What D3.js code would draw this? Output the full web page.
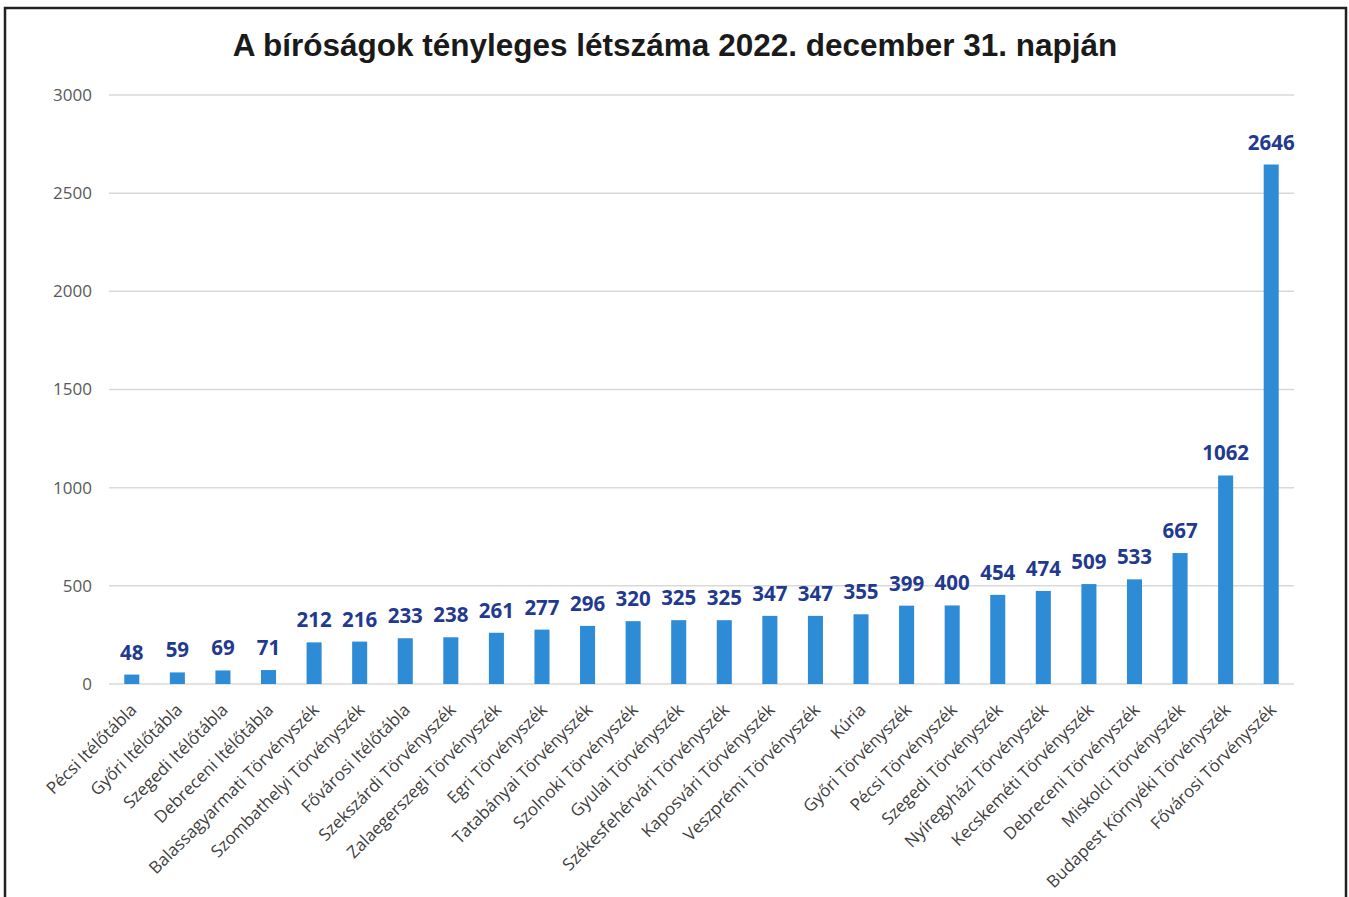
<!DOCTYPE html>
<html>
<head>
<meta charset="utf-8">
<script src="https://cdn.jsdelivr.net/npm/d3@7"></script>
<style>
  html, body { margin: 0; padding: 0; background: #fff; }
  svg { display: block; }
</style>
</head>
<body>
<svg id="chart" width="1349" height="897"></svg>
<script>
const titleText = "A bíróságok tényleges létszáma 2022. december 31. napján";
const categories = [
  "Pécsi Itélőtábla", "Győri Itélőtábla", "Szegedi Itélőtábla", "Debreceni Itélőtábla",
  "Balassagyarmati Törvényszék", "Szombathelyi Törvényszék", "Fővárosi Itélőtábla",
  "Szekszárdi Törvényszék", "Zalaegerszegi Törvényszék", "Egri Törvényszék",
  "Tatabányai Törvényszék", "Szolnoki Törvényszék", "Gyulai Törvényszék",
  "Székesfehérvári Törvényszék", "Kaposvári Törvényszék", "Veszprémi Törvényszék",
  "Kúria", "Győri Törvényszék", "Pécsi Törvényszék", "Szegedi Törvényszék",
  "Nyíregyházi Törvényszék", "Kecskeméti Törvényszék", "Debreceni Törvényszék",
  "Miskolci Törvényszék", "Budapest Környéki Törvényszék", "Fővárosi Törvényszék"
];
const values = [48, 59, 69, 71, 212, 216, 233, 238, 261, 277, 296, 320, 325, 325, 347, 347, 355, 399, 400, 454, 474, 509, 533, 667, 1062, 2646];
const yTicks = [0, 500, 1000, 1500, 2000, 2500, 3000];

const svg = d3.select("#chart");

// frame
svg.append("rect")
  .attr("x", 5).attr("y", 8).attr("width", 1341).attr("height", 900)
  .attr("fill", "none").attr("stroke", "#222").attr("stroke-width", 2.5);

// title
svg.append("text")
  .attr("x", 675).attr("y", 56)
  .attr("text-anchor", "middle")
  .attr("font-family", "'Liberation Sans', Arial, sans-serif")
  .attr("font-weight", "bold")
  .attr("font-size", 31.5)
  .attr("fill", "#1a1a1a")
  .text(titleText);

const plotLeft = 109, plotRight = 1294, plotTop = 95, plotBottom = 684;

const x = d3.scaleBand().domain(categories).range([plotLeft, plotRight]).paddingInner(0.67).paddingOuter(0.335);
const y = d3.scaleLinear().domain([0, 3000]).range([plotBottom, plotTop]);

// gridlines
svg.append("g")
  .selectAll("line")
  .data(yTicks)
  .join("line")
  .attr("x1", plotLeft).attr("x2", plotRight)
  .attr("y1", d => y(d)).attr("y2", d => y(d))
  .attr("stroke", "#d9d9d9").attr("stroke-width", 1.5);

// y axis labels
const yAxis = d3.axisLeft(y).tickValues(yTicks).tickSize(0).tickPadding(0).tickFormat(d3.format("d"));
const yg = svg.append("g").attr("transform", `translate(${92},0)`).call(yAxis);
yg.select(".domain").remove();
yg.selectAll("text")
  .attr("font-family", "'Open Sans', sans-serif")
  .attr("font-size", 17)
  .attr("fill", "#595959");

// bars
svg.append("g")
  .selectAll("rect")
  .data(values)
  .join("rect")
  .attr("x", (d, i) => x(categories[i]))
  .attr("width", x.bandwidth())
  .attr("y", d => y(d))
  .attr("height", d => y(0) - y(d))
  .attr("fill", "#2e8bd6");

// value labels
svg.append("g")
  .selectAll("text")
  .data(values)
  .join("text")
  .attr("x", (d, i) => x(categories[i]) + x.bandwidth() / 2)
  .attr("y", d => y(d) - 15)
  .attr("text-anchor", "middle")
  .attr("font-family", "'Open Sans', sans-serif")
  .attr("font-weight", "bold")
  .attr("font-size", 20.5)
  .attr("fill", "#1f3a8f")
  .text(d => d);

// x axis labels
const xAxis = d3.axisBottom(x).tickSize(0).tickPadding(0);
const xg = svg.append("g").attr("transform", `translate(0,${plotBottom})`).call(xAxis);
xg.select(".domain").remove();
xg.selectAll("text")
  .attr("font-family", "'Open Sans', sans-serif")
  .attr("font-size", 17)
  .attr("fill", "#404040")
  .attr("text-anchor", "end")
  .attr("dy", 0)
  .attr("y", 0)
  .attr("transform", "translate(6,27) rotate(-45)");
</script>
</body>
</html>
